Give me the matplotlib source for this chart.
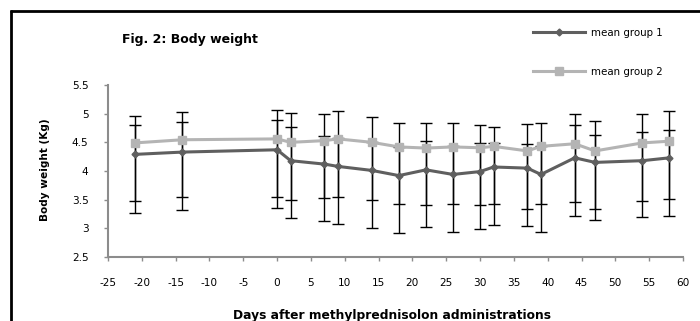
import matplotlib
matplotlib.use("Agg")
import matplotlib.pyplot as plt
from matplotlib.lines import Line2D
import numpy as np

plt.rcParams['font.family'] = ['DejaVu Sans']

days = [-21, -14, 0, 2, 7, 9, 14, 18, 22, 26, 30, 32, 37, 39, 44, 47, 54, 58]

g1_mean = [4.29, 4.33, 4.37, 4.18, 4.12, 4.08, 4.01, 3.92, 4.02, 3.94, 3.99, 4.07, 4.05, 3.94, 4.23, 4.15, 4.18, 4.23]
g1_upper = [4.80, 4.85, 4.885, 4.76, 4.61, 4.58, 4.50, 4.42, 4.52, 4.44, 4.49, 4.49, 4.475, 4.44, 4.80, 4.63, 4.68, 4.71]
g1_lower = [3.27, 3.32, 3.36, 3.18, 3.12, 3.08, 3.00, 2.92, 3.02, 2.94, 2.98, 3.05, 3.04, 2.93, 3.22, 3.14, 3.19, 3.22]

g2_mean = [4.49, 4.545, 4.56, 4.50, 4.53, 4.56, 4.50, 4.42, 4.40, 4.42, 4.405, 4.43, 4.35, 4.43, 4.475, 4.35, 4.49, 4.52]
g2_upper = [4.955, 5.03, 5.07, 5.01, 4.99, 5.04, 4.94, 4.83, 4.84, 4.84, 4.80, 4.77, 4.815, 4.83, 5.00, 4.88, 5.00, 5.05]
g2_lower = [3.48, 3.54, 3.555, 3.50, 3.53, 3.555, 3.50, 3.42, 3.40, 3.42, 3.40, 3.42, 3.34, 3.42, 3.46, 3.34, 3.48, 3.52]

x_ticks = list(range(-25, 61, 5))
y_ticks = [2.5, 3, 3.5, 4, 4.5, 5, 5.5]
y_ticklabels = ["2.5", "3", "3.5", "4", "4.5", "5", "5.5"]

title = "Fig. 2: Body weight"
xlabel = "Days after methylprednisolon administrations"
ylabel = "Body weight (Kg)"
labels = ["mean group 1", "mean group 2"]

c1 = "#5f5f5f"
c2 = "#b4b4b4"

fig = plt.figure(figsize=(7.0, 3.21), dpi=100)
ax = fig.add_axes([108/700, 1-257/321, (683-108)/700, (257-85)/321])

d = np.array(days)
for mean, up, lo in [(g1_mean, g1_upper, g1_lower), (g2_mean, g2_upper, g2_lower)]:
    m = np.array(mean)
    yerr = np.vstack([m - np.array(lo), np.array(up) - m])
    ax.errorbar(d, m, yerr=yerr, fmt='none', ecolor='black', elinewidth=1.0,
                capsize=4.3, capthick=1.0, zorder=2)

ax.plot(days, g2_mean, color=c2, lw=2.2, marker='s', ms=5.5, mfc=c2, mec=c2,
        label=labels[1], zorder=3)
ax.plot(days, g1_mean, color=c1, lw=2.2, marker='D', ms=3.5, mfc=c1, mec=c1,
        label=labels[0], zorder=4)

ax.set_xlim(-25, 60)
ax.set_ylim(2.5, 5.5)
ax.set_xticks(x_ticks)
ax.set_xticklabels([str(t) for t in x_ticks])
ax.set_yticks(y_ticks)
ax.set_yticklabels(y_ticklabels)

for s in ['top', 'right']:
    ax.spines[s].set_visible(False)
for s in ['left', 'bottom']:
    ax.spines[s].set_color('#8c8c8c')
    ax.spines[s].set_linewidth(1.5)
ax.tick_params(axis='x', direction='out', length=3, width=1, color='#8c8c8c',
               labelsize=7.6, pad=12, labelcolor='black')
ax.tick_params(axis='y', direction='out', length=3, width=1, color='#8c8c8c',
               labelsize=7.6, pad=11, labelcolor='black')

fig.text(392/700, 1-316/321, xlabel, ha='center', va='center', fontsize=8.8, fontweight='bold')
fig.text(45/700, 1-170/321, ylabel, ha='center', va='center', rotation=90, fontsize=7.6, fontweight='bold')
fig.text(122/700, 1-40/321, title, ha='left', va='center', fontsize=9, fontweight='bold')

h, l = ax.get_legend_handles_labels()
order = [1, 0]
leg = fig.legend([h[i] for i in order], [l[i] for i in order], loc='upper left',
                 bbox_to_anchor=(533/700, 1-28/321), frameon=False, fontsize=7.4,
                 handlelength=5.1, handletextpad=0.5, labelspacing=2.8,
                 borderpad=0, borderaxespad=0)

fig.add_artist(Line2D([10/700, 1.0], [1-10.5/321, 1-10.5/321], color='black', lw=2.0,
                      solid_capstyle='butt', transform=fig.transFigure))
fig.add_artist(Line2D([10.5/700, 10.5/700], [0, 1-10/321], color='black', lw=2.0,
                      solid_capstyle='butt', transform=fig.transFigure))

fig.savefig("out.png", dpi=100)
